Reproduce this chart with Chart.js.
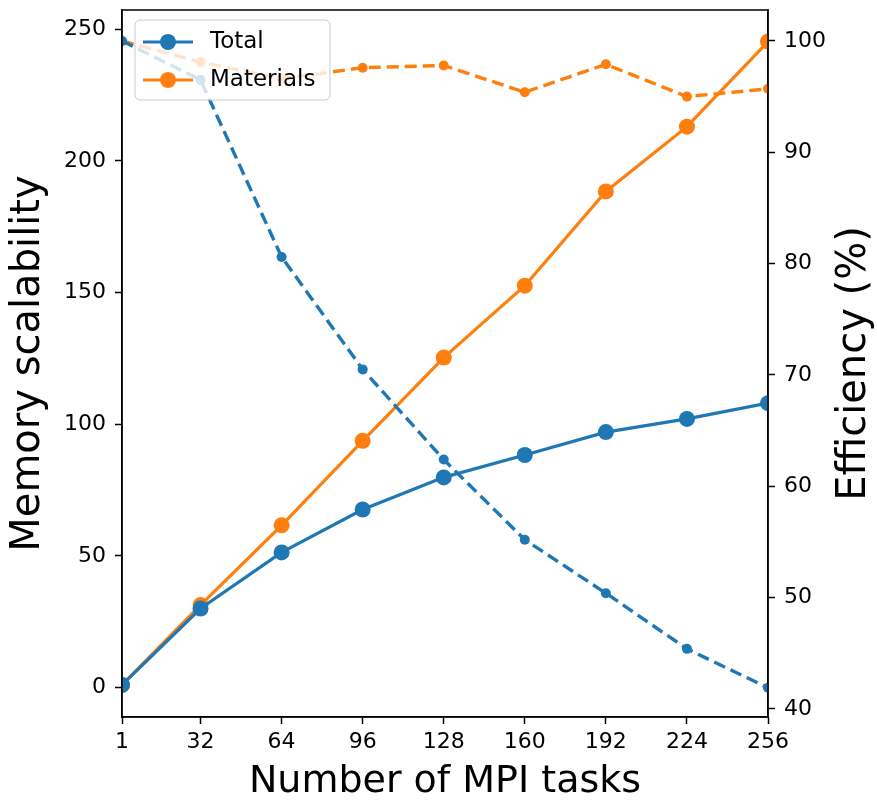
<!DOCTYPE html>
<html>
<head>
<meta charset="utf-8">
<script src="https://cdn.jsdelivr.net/npm/chart.js@4/dist/chart.umd.min.js"></script>
<style>
  html, body { margin:0; padding:0; background:#fff; }
  #wrap { width:877px; height:801px; position:relative; }
</style>
</head>
<body>
<div id="wrap"><canvas id="c"></canvas></div>
<script>
const tasks = [1, 32, 64, 96, 128, 160, 192, 224, 256];
const totalScal = [1.0, 30.0, 51.3, 67.6, 79.8, 88.3, 97.0, 102.0, 108.0];
const materialsScal = [1.0, 31.3, 61.6, 93.7, 125.3, 152.6, 188.4, 213.0, 245.3];
const totalEff = [100, 96.5, 80.6, 70.5, 62.4, 55.2, 50.4, 45.4, 41.9];
const materialsEff = [100, 98.1, 96.6, 97.6, 97.8, 95.4, 97.9, 95.0, 95.7];

const xTicks = [1, 32, 64, 96, 128, 160, 192, 224, 256];
const scalTicks = [0, 50, 100, 150, 200, 250];
const effTicks = [40, 50, 60, 70, 80, 90, 100];

const BLUE = "#1f77b4", ORANGE = "#ff7f0e";
const FONT = "'DejaVu Sans', sans-serif";

const pts = (ys) => tasks.map((x, i) => ({ x, y: ys[i] }));

// frame around the plot area (top spine included) + right axis title read bottom-up
const frame = {
  id: "frame",
  afterDatasetsDraw(chart){
    const a = chart.chartArea, ctx = chart.ctx;
    ctx.save();
    ctx.strokeStyle = "#000"; ctx.lineWidth = 1.5;
    ctx.strokeRect(a.left, a.top, a.right - a.left, a.bottom - a.top);
    ctx.translate(855, (a.top + a.bottom) / 2);
    ctx.rotate(-Math.PI / 2);
    ctx.fillStyle = "#000";
    ctx.font = "40px " + FONT;
    ctx.textAlign = "center"; ctx.textBaseline = "middle";
    ctx.fillText("Efficiency (%)", 0, 0);
    ctx.restore();
  }
};

// legend box drawn inside the axes, upper left
const innerLegend = {
  id: "innerLegend",
  afterDatasetsDraw(chart){
    const ctx = chart.ctx;
    const x = 135, y = 20, w = 195, h = 80, r = 5;
    ctx.save();
    ctx.beginPath();
    ctx.roundRect(x, y, w, h, r);
    ctx.fillStyle = "rgba(255,255,255,0.8)";
    ctx.fill();
    ctx.strokeStyle = "#cccccc"; ctx.lineWidth = 1;
    ctx.stroke();
    const items = [["Total", BLUE, 42], ["Materials", ORANGE, 80]];
    items.forEach(([label, col, ly]) => {
      ctx.strokeStyle = col; ctx.lineWidth = 3;
      ctx.beginPath(); ctx.moveTo(143, ly); ctx.lineTo(193, ly); ctx.stroke();
      ctx.fillStyle = col;
      ctx.beginPath(); ctx.arc(168, ly, 8, 0, Math.PI * 2); ctx.fill();
      ctx.fillStyle = "#000";
      ctx.font = "23px " + FONT;
      ctx.textBaseline = "middle";
      ctx.fillText(label, 210, ly);
    });
    ctx.restore();
  }
};

const tickFont = { family: FONT, size: 22 };
const axisGrid = { drawOnChartArea:false, drawTicks:true, tickLength:7, tickColor:"#000", tickWidth:1.5 };
const axisBorder = { display:true, color:"#000", width:1.5 };

// fixed axis box sizes so the plot area sits at 122..768 x 10..717
const fitY = (w) => (s) => { s.width = w; s.paddingTop = 10; s.paddingBottom = 0; };

new Chart(document.getElementById("c"), {
  type: "line",
  data: {
    datasets: [
      { label:"Total", data:pts(totalScal), yAxisID:"y", borderColor:BLUE, backgroundColor:BLUE,
        borderWidth:3.2, pointRadius:8, pointHoverRadius:8, pointBorderWidth:0, clip:0, order:3 },
      { label:"Materials", data:pts(materialsScal), yAxisID:"y", borderColor:ORANGE, backgroundColor:ORANGE,
        borderWidth:3.2, pointRadius:8, pointHoverRadius:8, pointBorderWidth:0, clip:0, order:4 },
      { label:"Total efficiency", data:pts(totalEff), yAxisID:"y1", borderColor:BLUE, backgroundColor:BLUE,
        borderWidth:3.4, borderDash:[12,6], pointRadius:5, pointBorderWidth:0, clip:0, order:1 },
      { label:"Materials efficiency", data:pts(materialsEff), yAxisID:"y1", borderColor:ORANGE, backgroundColor:ORANGE,
        borderWidth:3.4, borderDash:[12,6], pointRadius:5, pointBorderWidth:0, clip:0, order:2 },
    ],
  },
  options: {
    responsive:true, maintainAspectRatio:false, animation:false,
    layout:{ padding:0 },
    plugins:{ legend:{ display:false }, tooltip:{ enabled:false } },
    scales:{
      x:{
        type:"linear", min:1, max:256,
        afterBuildTicks: s => { s.ticks = xTicks.map(v => ({ value:v })); },
        afterFit: s => { s.height = 84; },
        grid:axisGrid, border:axisBorder,
        ticks:{ color:"#000", font:tickFont, padding:5, maxRotation:0, autoSkip:false },
        title:{ display:true, text:"Number of MPI tasks", color:"#000", font:{ family:FONT, size:38, lineHeight:1 }, padding:{ top:0, bottom:0 } },
      },
      y:{
        position:"left", min:-11.2, max:257.3,
        afterBuildTicks: s => { s.ticks = scalTicks.map(v => ({ value:v })); },
        afterFit: fitY(122),
        grid:axisGrid, border:axisBorder,
        ticks:{ color:"#000", font:tickFont, padding:9 },
        title:{ display:true, text:"Memory scalability", color:"#000", font:{ family:FONT, size:40, lineHeight:1 }, padding:{ top:9, bottom:0 } },
      },
      y1:{
        position:"right", min:39.28, max:102.78,
        afterBuildTicks: s => { s.ticks = effTicks.map(v => ({ value:v })); },
        afterFit: fitY(109),
        grid:axisGrid, border:axisBorder,
        ticks:{ color:"#000", font:tickFont, padding:9 },
      },
    },
  },
  plugins:[frame, innerLegend],
});
</script>
</body>
</html>
